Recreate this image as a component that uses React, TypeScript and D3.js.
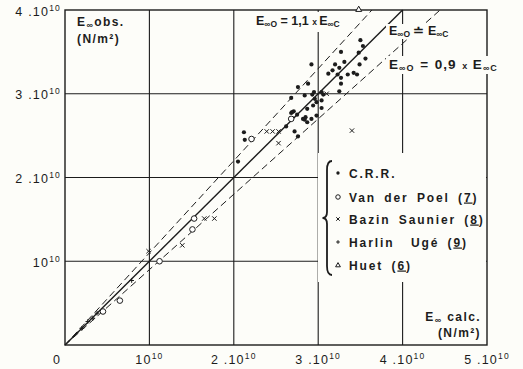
import React from "react";
import * as d3 from "d3";

// values in units of 1e10 N/m²
const crr: [number, number][] = [
  [3.5, 3.64], [3.53, 3.57], [3.27, 3.5], [3.48, 3.49], [2.92, 3.35], [3.2, 3.35], [3.31, 3.38],
  [3.56, 3.42], [3.49, 3.35], [3.12, 3.24], [3.17, 3.28], [3.25, 3.31], [3.23, 3.23], [3.35, 3.23],
  [3.42, 3.25], [3.46, 3.23], [3.27, 3.19], [2.88, 3.12], [3.27, 3.12], [2.76, 3.08], [3.25, 3.03],
  [2.95, 3.02], [2.93, 2.99], [3.04, 3.02], [3.06, 2.99], [2.84, 2.98], [2.68, 2.95], [2.96, 2.94],
  [3.04, 2.92], [2.98, 2.9], [2.94, 2.86], [2.87, 2.82], [3.04, 2.83], [2.71, 2.79], [2.68, 2.77],
  [2.75, 2.75], [2.98, 2.74], [2.85, 2.72], [2.84, 2.69], [2.92, 2.7], [2.69, 2.71], [2.87, 2.66],
  [2.62, 2.61], [2.72, 2.55], [2.76, 2.49], [2.12, 2.54], [2.13, 2.45], [2.05, 2.19], [2.69, 2.78],
  [2.82, 2.7],
];
const vanDerPoel: [number, number][] = [
  [2.21, 2.46], [2.68, 2.7], [1.53, 1.51], [1.51, 1.38], [1.12, 1.0], [0.65, 0.53], [0.45, 0.4],
];
const bazinSaunier: [number, number][] = [
  [2.39, 2.55], [2.46, 2.55], [2.53, 2.55], [2.53, 2.41], [3.4, 2.56], [3.1, 3.0], [1.65, 1.51],
  [1.77, 1.51], [1.39, 1.19], [0.99, 1.12],
];
const harlinUge: [number, number][] = [
  [0.79, 0.77], [0.2, 0.2], [0.27, 0.28], [0.33, 0.32], [0.38, 0.38],
];
const huet: [number, number][] = [[3.48, 4.01]];

const xTicks = [1, 2, 3, 4, 5];
const yTicks = [1, 2, 3, 4];
const tickPrefix = ["", "", "2 .", "3 .", "4 .", "5 ."];
const ratios = [1.1, 1.0, 0.9];
const legendItems = [
  { kind: "dot", label: "C.R.R.", ref: "" },
  { kind: "circle", label: "Van der Poel (", ref: "7" },
  { kind: "cross", label: "Bazin Saunier (", ref: "8" },
  { kind: "plus", label: "Harlin  Ugé (", ref: "9" },
  { kind: "tri", label: "Huet (", ref: "6" },
];

const INK = "#1c1c1c";
const FONT = "'Liberation Sans', Arial, Helvetica, sans-serif";

function Marker({ kind, cx, cy, s = 1 }: { kind: string; cx: number; cy: number; s?: number }) {
  if (kind === "dot") return <circle cx={cx} cy={cy} r={2.1 * s} fill={INK} />;
  if (kind === "circle")
    return <circle cx={cx} cy={cy} r={2.8 * s} fill="#fff" stroke={INK} strokeWidth={1} />;
  if (kind === "cross") {
    const a = 2.2 * s;
    return (
      <path d={`M${cx - a},${cy - a}L${cx + a},${cy + a}M${cx - a},${cy + a}L${cx + a},${cy - a}`} stroke={INK} strokeWidth={1} />
    );
  }
  if (kind === "plus") {
    const a = 2.3 * s;
    return <path d={`M${cx - a},${cy}L${cx + a},${cy}M${cx},${cy - a}L${cx},${cy + a}`} stroke={INK} strokeWidth={1} />;
  }
  const a = 3 * s;
  return (
    <path d={`M${cx},${cy - a}L${cx + a},${cy + a * 0.75}L${cx - a},${cy + a * 0.75}Z`} fill="#fff" stroke={INK} strokeWidth={1} />
  );
}

export default function App() {
  const W = 523, H = 369;
  const x = d3.scaleLinear().domain([0, 5]).range([65, 487]);
  const y = d3.scaleLinear().domain([0, 4]).range([345, 10]);
  const line = d3.line<[number, number]>().x((d) => x(d[0])).y((d) => y(d[1]));

  const legendY = [173, 197, 219, 242, 265];

  return (
    <svg width={W} height={H} style={{ position: "absolute", left: 0, top: 0, background: "#fdfdf9" }} fontFamily={FONT}>
      <rect width={W} height={H} fill="#fdfdf9" />
      {/* grid */}
      {xTicks.slice(0, 4).map((t) => (
        <line key={"gx" + t} x1={x(t)} x2={x(t)} y1={y(0)} y2={y(4)} stroke={INK} strokeWidth={1.1} />
      ))}
      {yTicks.slice(0, 3).map((t) => (
        <line key={"gy" + t} x1={x(0)} x2={x(5)} y1={y(t)} y2={y(t)} stroke={INK} strokeWidth={1.1} />
      ))}
      {/* ratio lines */}
      {ratios.map((r) => {
        const xEnd = Math.min(5, 4 / r);
        return (
          <path
            key={"r" + r}
            d={line([[0, 0], [xEnd, xEnd * r]]) || ""}
            fill="none"
            stroke={INK}
            strokeWidth={r === 1 ? 1.4 : 1}
            strokeDasharray={r === 1 ? undefined : "7,4"}
          />
        );
      })}
      {/* data */}
      {crr.map((d, i) => <Marker key={"c" + i} kind="dot" cx={x(d[0])} cy={y(d[1])} />)}
      {vanDerPoel.map((d, i) => <Marker key={"v" + i} kind="circle" cx={x(d[0])} cy={y(d[1])} />)}
      {bazinSaunier.map((d, i) => <Marker key={"b" + i} kind="cross" cx={x(d[0])} cy={y(d[1])} />)}
      {harlinUge.map((d, i) => <Marker key={"h" + i} kind="plus" cx={x(d[0])} cy={y(d[1])} />)}

      {/* masks behind labels */}
      <rect x={253} y={12} width={99} height={20} fill="#fdfdf9" />
      <rect x={386} y={24} width={74} height={15} fill="#fdfdf9" />
      <rect x={318} y={153} width={168} height={129} fill="#fdfdf9" />

      {/* frame */}
      <rect x={x(0)} y={y(4)} width={x(5) - x(0)} height={y(0) - y(4)} fill="none" stroke={INK} strokeWidth={1.4} />
      {huet.map((d, i) => <Marker key={"t" + i} kind="tri" cx={x(d[0])} cy={y(d[1])} />)}
      <rect x={386} y={56} width={110} height={18} fill="#fdfdf9" />

      {/* tick labels */}
      <g fill={INK} fontSize={12.5} letterSpacing={1.2}>
        {yTicks.map((t) => (
          <text key={"yl" + t} x={61} y={y(t) + 5.5} textAnchor="end">
            {tickPrefix[t]}10<tspan dy={-5} fontSize={8.5}>10</tspan>
          </text>
        ))}
        {xTicks.map((t) => (
          <text key={"xl" + t} x={x(t)} y={364} textAnchor="middle">
            {tickPrefix[t]}10<tspan dy={-5} fontSize={8.5}>10</tspan>
          </text>
        ))}
        <text x={57} y={364} textAnchor="middle">0</text>
      </g>

      {/* axis titles */}
      <g fill={INK} fontWeight="bold" fontSize={12} letterSpacing={1.4}>
        <text x={77} y={26}>
          E<tspan fontSize={9} dy={2}>∞</tspan>
          <tspan dy={-2}>obs.</tspan>
        </text>
        <text x={77} y={43}>(N/m²)</text>
        <text x={481} y={321} textAnchor="end">
          E<tspan fontSize={9} dy={2}>∞</tspan>
          <tspan dy={-2}> calc.</tspan>
        </text>
        <text x={481} y={337} textAnchor="end">(N/m²)</text>
      </g>

      {/* ratio annotations */}
      <g fill={INK} fontWeight="bold" fontSize={12.5}>
        <text x={256} y={25}>
          E<tspan fontSize={8.5} dy={2}>∞O</tspan>
          <tspan dy={-2}> = 1,1 </tspan>
          <tspan fontSize={8.5}>x </tspan>E<tspan fontSize={8.5} dy={2}>∞C</tspan>
        </text>
        <text x={389} y={35}>
          E<tspan fontSize={8.5} dy={2}>∞O</tspan>
          <tspan dy={-2}> ≐ </tspan>E<tspan fontSize={8.5} dy={2}>∞C</tspan>
        </text>
        <text x={389} y={69} fontSize={13.5} letterSpacing={1} wordSpacing={1}>
          E<tspan fontSize={9} dy={2}>∞O</tspan>
          <tspan dy={-2}> = 0,9 </tspan>
          <tspan fontSize={9}>x </tspan>E<tspan fontSize={9} dy={2}>∞C</tspan>
        </text>
      </g>

      {/* legend */}
      <path
        d="M332,161 Q327,161 327,170 L327,212 Q327,218 322.5,218 Q327,218 327,224 L327,266 Q327,275 332,275"
        fill="none"
        stroke={INK}
        strokeWidth={1.8}
      />
      {legendItems.map((it, i) => (
        <g key={"lg" + i}>
          <Marker kind={it.kind} cx={338} cy={legendY[i]} s={0.8} />
          <text
            x={349}
            y={legendY[i] + 4.5}
            fill={INK}
            fontWeight="bold"
            fontSize={12}
            letterSpacing={1.9}
            wordSpacing={3}
            style={{ whiteSpace: "pre" }}
          >
            {it.label}
            {it.ref ? (
              <>
                <tspan textDecoration="underline">{it.ref}</tspan>)
              </>
            ) : null}
          </text>
        </g>
      ))}
    </svg>
  );
}
